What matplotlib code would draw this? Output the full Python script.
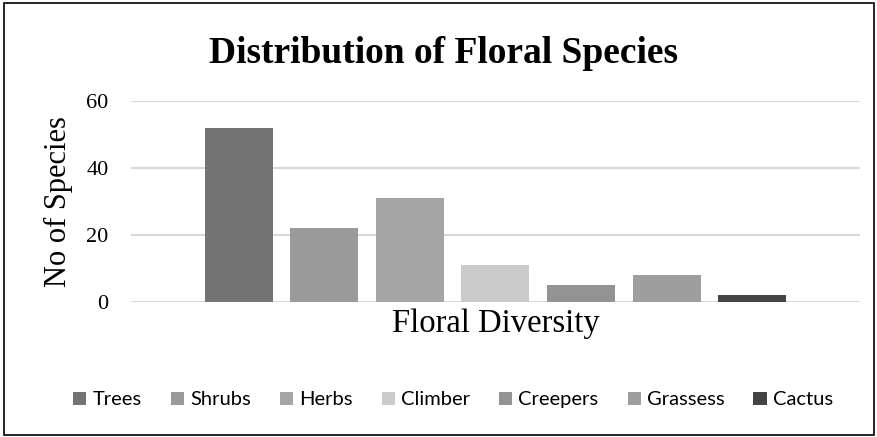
import matplotlib
matplotlib.use("Agg")
import matplotlib.pyplot as plt
from matplotlib.patches import Rectangle, Patch

categories = ["Trees", "Shrubs", "Herbs", "Climber", "Creepers", "Grassess", "Cactus"]
values = [52, 22, 31, 11, 5, 8, 2]
colors = ["#737373", "#9a9a9a", "#a5a5a5", "#cbcbcb", "#939393", "#9e9e9e", "#444444"]
yticks = [0, 20, 40, 60]

fig = plt.figure(figsize=(8.78, 4.37), dpi=100)
ax = fig.add_axes([0.149, 0.309, 0.8305, 0.46])

x = list(range(len(categories)))
ax.bar(x, values, width=0.795, color=colors, zorder=3)

ax.set_ylim(0, 60)
ax.set_xlim(-1.26, 7.26)
ax.set_yticks(yticks)
ax.set_yticklabels([str(t) for t in yticks], fontfamily="Liberation Serif", fontsize=16)
ax.set_xticks([])
ax.tick_params(axis="y", length=0, pad=16)
ax.grid(axis="y", color="#d9d9d9", linewidth=1.5, zorder=0)
for s in ax.spines.values():
    s.set_visible(False)

ax.set_ylabel("No of Species", fontfamily="Liberation Serif", fontsize=22, labelpad=9.5)
ax.set_xlabel("Floral Diversity", fontfamily="Liberation Serif", fontsize=23.5, labelpad=5)

fig.text(0.505, 0.878, "Distribution of Floral Species", ha="center", va="center",
         fontfamily="Liberation Serif", fontweight="bold", fontsize=27)

handles = [Patch(facecolor=c, edgecolor="none") for c in colors]
fig.legend(handles, categories, loc="center", bbox_to_anchor=(0.516, 0.085), ncol=7,
           frameon=False, handlelength=0.65, handleheight=0.65, handletextpad=0.3,
           columnspacing=1.45, prop={"family": "Lato", "size": 14.5})

fig.patches.append(Rectangle((0.005, 0.004), 0.99, 0.99, transform=fig.transFigure,
                             fill=False, edgecolor="black", linewidth=1.2))

fig.savefig("out.png", dpi=100)
